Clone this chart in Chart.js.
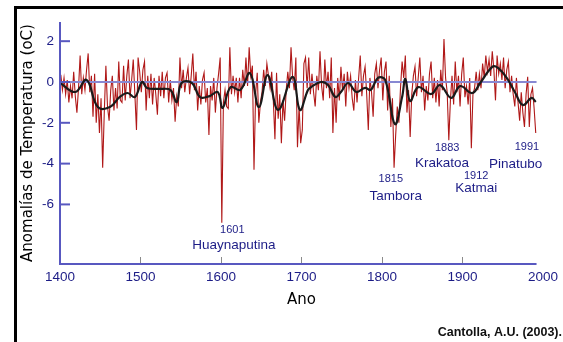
<!DOCTYPE html>
<html><head><meta charset="utf-8">
<script src="https://cdn.jsdelivr.net/npm/chart.js@4/dist/chart.umd.min.js"></script>
<style>html,body{margin:0;padding:0;background:#fff}#c{display:block}</style>
</head><body>
<canvas id="c" width="563" height="342"></canvas>
<script>
// ---- data ----
const xTickLabels = [1400, 1500, 1600, 1700, 1800, 1900, 2000];
const yTickLabels = [2, 0, -2, -4, -6];

// annual reconstruction (sampled every second year, 1401..1991)
const redStartYear = 1401, redStepYears = 2;
const redValues = [
  0.35,-0.4,0.2,-0.6,0.1,      -1.0,-0.2,-0.8,0.5,-0.7,
  -1.5,-0.3,1.3,-0.6,0.2,      -0.4,0.6,1.4,-0.5,0.3,
  -1.7,0.4,-2.0,-0.6,-2.5,     -0.8,-4.2,-1.5,0.8,-1.2,
  -1.9,-0.4,0.3,-1.4,-0.3,     -1.3,1.0,-0.9,-1.0,0.8,
  -0.9,0.3,1.1,-0.8,0.1,       1.1,-0.6,-2.35,1.2,0.5,
  -0.5,0.6,1.0,-1.4,0.3,       -0.8,0.4,-1.1,0.2,-0.6,
  -1.6,0.3,-0.7,0.5,-0.8,      0.2,0.45,-1.0,0.1,-0.9,
  -0.3,-1.95,-0.7,-1.2,1.2,    -0.3,0.6,-0.5,0.2,0.7,
  -0.6,0.3,1.4,-0.4,0.5,       -1.4,-0.2,-1.1,0.1,0.45,
  -1.0,-0.3,-2.6,-0.2,-0.9,    0.2,-1.5,-0.3,0.4,1.2,
  -6.9,-1.0,-0.4,-1.2,-1.3,    1.7,-0.6,0.3,-0.5,0.2,
  -1.0,0.2,-0.8,0.6,-0.2,      1.2,-0.2,1.7,0.3,0.8,
  -4.3,-0.6,0.45,-2.0,-1.0,    -0.5,0.6,-0.2,0.9,0.3,
  -0.3,0.5,-0.9,-2.8,0.45,     -1.8,-0.6,-3.0,-0.9,-1.9,
  -0.4,0.5,-0.3,1.7,0.2,       -0.4,1.2,-3.2,-1.2,-3.0,
  -2.35,0.9,1.2,-0.3,1.2,      -0.6,0.4,-0.5,-1.2,0.3,
  -0.4,1.5,-0.2,-0.9,1.1,      -0.3,0.5,-0.8,1.2,-2.5,
  -0.3,-2.0,0.2,-0.9,0.75,     -0.4,0.4,-1.2,0.5,-0.3,
  0.3,-0.8,-1.4,0.1,-1.0,      0.2,1.3,-0.7,0.3,0.75,
  -0.6,-2.35,0.2,-0.5,-1.7,    0.4,0.9,-0.3,0.6,1.2,
  -0.9,0.5,1.0,-1.4,0.3,       -2.2,-0.8,-4.2,-2.6,-1.2,
  -2.0,-0.3,1.0,0.2,1.3,       -1.5,-0.4,-2.7,-0.6,0.3,
  0.75,-0.7,0.2,1.2,-0.5,      0.3,-1.4,-0.2,-0.9,0.4,
  1.0,-0.8,0.2,-1.0,0.1,       -1.2,0.6,-0.4,2.1,0.2,
  -0.5,-2.85,-0.9,0.3,-1.1,    1.0,-0.5,0.3,-1.2,0.4,
  1.2,-0.75,-0.2,-1.1,0.2,     -3.25,-0.6,-0.3,0.5,-0.4,
  0.4,-0.3,0.9,0.2,1.3,        0.5,1.1,0.3,1.5,0.6,
  -0.9,1.3,0.4,0.9,0.1,        1.2,-0.3,0.6,1.0,-0.5,
  0.3,-0.6,-1.2,0.2,-1.0,      -1.9,-0.5,-1.5,-2.2,-0.6,
  0.25,-2.2,-0.6,-0.3,-1.3,    -2.5
];

// smoothed curve
const smoothYears = [1400,1419,1433,1447,1462,1474,1484,1493,1502,1508,1524,1537,1545,1551,1564,1574,1586,1596,1602,1612,1624,1636,1647,1658,1671,1689,1698,1708,1712,1724,1733,1742,1749,1758,1768,1779,1786,1795,1804,1816,1825,1829,1835,1845,1861,1872,1886,1897,1912,1922,1937,1944,1955,1965,1975,1986,1991];
const smoothValues = [-0.05,-0.49,0.10,-1.23,-1.23,-0.74,-0.54,-0.74,0.0,-0.29,-0.34,-0.39,-0.98,-0.05,-0.05,-0.74,-0.69,-0.49,-1.27,-0.25,-0.39,0.44,-1.23,0.34,-1.37,0.25,-1.37,-0.39,-0.25,0.0,-0.15,-0.74,-0.49,-0.05,-0.49,-0.29,-0.39,0.20,0.10,-2.06,-0.74,0.15,-0.93,-0.25,-0.59,-0.15,-0.78,-0.20,-0.54,-0.05,0.74,0.69,0.20,-0.49,-1.13,-0.78,-0.98];

const zeroYears = [1400, 1992];
const zeroValues = [0, 0];

const noteTexts  = ['1601','Huaynaputina','1815','Tambora','1883','Krakatoa','1912','Katmai','1991','Pinatubo'];
const noteYears  = [1614, 1616, 1811, 1817, 1881, 1874.5, 1917, 1917, 1980, 1966];
const noteValues = [-7.25, -7.99, -4.75, -5.59, -3.24, -3.97, -4.61, -5.20, -3.19, -4.02];

// ---- build ----
const redPts = redValues.map((v, i) => ({x: redStartYear + i * redStepYears, y: v}));
const smoothPts = smoothYears.map((yr, i) => ({x: yr, y: smoothValues[i]}));
const zeroPts = zeroYears.map((yr, i) => ({x: yr, y: zeroValues[i]}));

const tickFont = '"Liberation Sans", Arial, sans-serif';
const navy = '#1c1c86';

const deco = {
  id: 'deco',
  beforeDraw(chart) {
    const c = chart.ctx; c.save(); c.fillStyle = '#fff'; c.fillRect(0, 0, chart.width, chart.height); c.restore();
  },
  afterDraw(chart) {
    const c = chart.ctx, xs = chart.scales.x, ys = chart.scales.y;
    c.save();
    // outer frame (top + left)
    c.fillStyle = '#000';
    c.fillRect(14, 6, chart.width - 14, 3);
    c.fillRect(14, 6, 3, chart.height - 6);
    // axes
    const x0 = xs.getPixelForValue(1400), x1 = xs.getPixelForValue(1992);
    const yb = ys.bottom, yt = ys.top;
    c.strokeStyle = '#5858c0'; c.lineWidth = 2;
    c.beginPath(); c.moveTo(x0, yt); c.lineTo(x0, yb); c.lineTo(x1, yb); c.stroke();
    yTickLabels.forEach(v => {
      const y = ys.getPixelForValue(v);
      c.beginPath(); c.moveTo(x0, y); c.lineTo(x0 + 10, y); c.stroke();
    });
    c.strokeStyle = '#8a8a8a'; c.lineWidth = 1;
    xTickLabels.forEach(v => {
      if (v === 1400 || v > 1992) return;
      const x = Math.round(xs.getPixelForValue(v)) + 0.5;
      c.beginPath(); c.moveTo(x, yb - 1); c.lineTo(x, yb - 7); c.stroke();
    });
    // notes
    c.fillStyle = navy; c.textAlign = 'center'; c.textBaseline = 'middle';
    noteTexts.forEach((t, i) => {
      const small = /^\d+$/.test(t);
      c.font = (small ? '11px ' : '13.5px ') + tickFont;
      c.fillText(t, xs.getPixelForValue(noteYears[i]), ys.getPixelForValue(noteValues[i]));
    });
    // credit
    c.fillStyle = '#111'; c.textAlign = 'right';
    c.font = 'bold 12.5px "Liberation Sans", sans-serif';
    c.fillText('Cantolla, A.U. (2003).', 562, 333);
    c.restore();
  }
};

new Chart(document.getElementById('c'), {
  type: 'line',
  data: {
    datasets: [
      {data: smoothPts, borderColor: '#1a1a1a', borderWidth: 2.2, pointRadius: 0, tension: 0.4, fill: false},
      {data: zeroPts, borderColor: '#8888d2', borderWidth: 2, pointRadius: 0, fill: false},
      {data: redPts, borderColor: '#b01818', borderWidth: 1.1, pointRadius: 0, tension: 0, fill: false}
    ]
  },
  options: {
    responsive: false, animation: false, devicePixelRatio: 1,
    layout: {padding: {left: 0, right: 20, top: 22, bottom: 0}},
    plugins: {legend: {display: false}, tooltip: {enabled: false}},
    scales: {
      x: {
        type: 'linear', min: 1400, max: 2000,
        grid: {display: false, drawTicks: false}, border: {display: false},
        afterBuildTicks: s => { s.ticks = xTickLabels.map(v => ({value: v})); },
        afterFit: s => { s.height = 78; },
        ticks: {color: navy, padding: 5, font: {family: tickFont, size: 13.5}, maxRotation: 0, autoSkip: false, callback: v => String(v)},
        title: {display: true, text: 'Ano', color: '#000', font: {family: '"DejaVu Sans", sans-serif', size: 15}, padding: {top: 0, bottom: 33}}
      },
      y: {
        type: 'linear', min: -8.92, max: 2.94,
        grid: {display: false, drawTicks: false}, border: {display: false},
        afterBuildTicks: s => { s.ticks = yTickLabels.map(v => ({value: v})); },
        afterFit: s => { s.width = 60; },
        ticks: {color: navy, padding: 6, font: {family: tickFont, size: 13.5}, callback: v => String(v)},
        title: {display: true, text: 'Anomalías de Temperatura (oC)', color: '#000', font: {family: '"DejaVu Sans", sans-serif', size: 15}, padding: {top: 19, bottom: 0}}
      }
    }
  },
  plugins: [deco]
});
</script>
</body></html>
